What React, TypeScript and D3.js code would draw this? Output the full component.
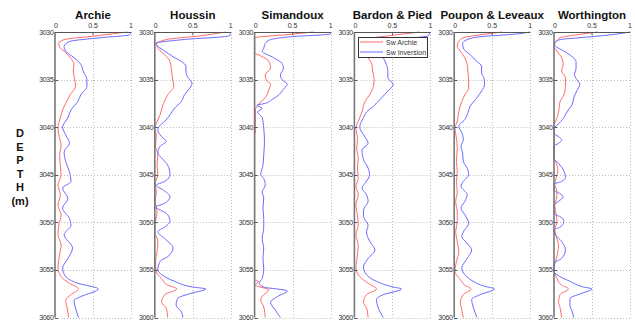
import React, { useEffect, useRef } from 'react';
import * as d3 from 'd3';

type Pt = [number, number]; // [depth (m), Sw]

const TITLES = ['Archie', 'Houssin', 'Simandoux', 'Bardon & Pied', 'Poupon & Leveaux', 'Worthington'];
const DEPTH_TICKS = [3030, 3035, 3040, 3045, 3050, 3055, 3060];
const SW_TICKS = [0, 0.5, 1];
const SW_TICK_LABELS = ['0', '0.5', '1'];
const LEGEND_LABELS = ['Sw Archie', 'Sw Inversion'];
const DEPTH_LETTERS = ['D', 'E', 'P', 'T', 'H', '(m)'];

// red curves: Sw from Archie-type equations
const archieSw: Pt[] = [[3030,0.95],[3030.4,0.55],[3030.8,0.12],[3031.2,0.05],[3031.6,0.06],[3032,0.12],[3032.7,0.2],[3033.4,0.25],[3034.1,0.24],[3035,0.26],[3035.7,0.27],[3036.6,0.2],[3037.5,0.14],[3038.2,0.1],[3039,0.07],[3040,0.04],[3040.8,0.05],[3041.9,0.08],[3043,0.06],[3044,0.07],[3045,0.08],[3046.1,0.04],[3047.1,0.07],[3048.2,0.04],[3049.2,0.08],[3050.3,0.05],[3051.3,0.04],[3052.4,0.08],[3053.4,0.06],[3054.8,0.04],[3055.7,0.08],[3056.4,0.19],[3057,0.31],[3057.6,0.21],[3058.2,0.14],[3059,0.16],[3060,0.18]];
const houssinSw: Pt[] = [[3030,0.93],[3030.4,0.6],[3030.8,0.15],[3031.3,0.02],[3031.7,0.04],[3032.4,0.13],[3033.1,0.2],[3034.1,0.22],[3035.2,0.24],[3035.7,0.25],[3036.6,0.17],[3037.6,0.11],[3038.7,0.07],[3039.8,0.01],[3040.1,0],[3040.8,0.02],[3042,0.01],[3042.9,0.04],[3044,0.03],[3045,0.04],[3045.9,0.005],[3046.8,0.02],[3047.8,0.005],[3048.9,0.03],[3049.9,0.01],[3051,0],[3052,0.04],[3053.1,0.03],[3054.1,0.01],[3055.2,0.02],[3055.9,0.09],[3056.6,0.17],[3057,0.29],[3057.6,0.13],[3058.4,0.09],[3059,0.15],[3060,0.17]];
const simandouxSw: Pt[] = [[3030,0.77],[3030.3,0.4],[3030.6,0],[3031.5,0],[3032.2,0],[3032.5,0.08],[3033.1,0.19],[3033.8,0.21],[3034.5,0.14],[3035,0.15],[3035.5,0.21],[3036,0.19],[3036.9,0.14],[3037.5,0.06],[3038.2,0.01],[3039,0.01],[3040.5,0.01],[3040.8,0],[3056,0],[3056.2,0.05],[3056.6,0.01],[3057.1,0.19],[3057.6,0.12],[3058.1,0.08],[3058.9,0.12],[3060,0.14]];
const bardonSw: Pt[] = [[3030,0.86],[3030.3,0.55],[3030.8,0.12],[3031.3,0.05],[3032,0.12],[3032.7,0.18],[3033.4,0.23],[3034.1,0.24],[3035,0.26],[3035.7,0.25],[3036.6,0.2],[3037.3,0.14],[3038.4,0.1],[3039.4,0.05],[3040.1,0.02],[3041.2,0.04],[3042.2,0.03],[3043.3,0.05],[3044.3,0.04],[3045.4,0.05],[3046.2,0.02],[3047.1,0.05],[3048.2,0.02],[3049.2,0.04],[3050.3,0.05],[3051.3,0.02],[3052.4,0.05],[3053.4,0.04],[3054.8,0.02],[3055.7,0.07],[3056.4,0.18],[3057,0.29],[3057.6,0.16],[3058.4,0.12],[3059,0.16],[3060,0.18]];
const pouponSw: Pt[] = [[3030,0.63],[3030.3,0.34],[3030.6,0.12],[3031,0.06],[3031.5,0.04],[3032,0.08],[3032.7,0.14],[3033.4,0.17],[3034.1,0.18],[3035.2,0.19],[3035.9,0.19],[3036.6,0.14],[3037.3,0.1],[3038.4,0.06],[3039.4,0.04],[3040.1,0.01],[3041.2,0.03],[3042.2,0.04],[3043.6,0.03],[3044.7,0.04],[3045.7,0.03],[3046.8,0.04],[3047.8,0.02],[3048.9,0.04],[3049.9,0.04],[3051,0.02],[3052,0.04],[3053.1,0.06],[3054.1,0.03],[3055.2,0.01],[3055.9,0.07],[3056.6,0.14],[3057,0.22],[3057.6,0.12],[3058.4,0.08],[3059.2,0.1],[3060,0.12]];
const worthingtonSw: Pt[] = [[3030,0.58],[3030.3,0.3],[3030.6,0.08],[3031,0.03],[3031.5,0],[3032,0.04],[3032.7,0.1],[3033.4,0.12],[3034.1,0.1],[3034.8,0.15],[3035.7,0.15],[3036.6,0.13],[3037.3,0.08],[3038.4,0.06],[3039.2,0.03],[3039.9,0],[3043.3,0],[3043.8,0.03],[3044.5,0.05],[3045.3,0.03],[3046,0.01],[3046.8,0.04],[3047.6,0.03],[3048.3,0.01],[3049.2,0.03],[3050,0.04],[3050.7,0.01],[3051.5,0.03],[3052.5,0.06],[3053.5,0.04],[3055,0],[3055.9,0.04],[3056.6,0.1],[3057,0.19],[3057.6,0.08],[3058.4,0.06],[3059,0.08],[3060,0.1]];

// blue curves: Sw from inversion
const archieInv: Pt[] = [[3030,1],[3030.3,0.98],[3030.6,0.6],[3031,0.19],[3031.5,0.12],[3032,0.14],[3032.7,0.25],[3033.4,0.34],[3034.1,0.37],[3035,0.42],[3035.7,0.42],[3036.6,0.34],[3037.3,0.3],[3038.2,0.21],[3039,0.17],[3040,0.1],[3040.8,0.14],[3041.7,0.19],[3042.6,0.12],[3043.6,0.14],[3044.7,0.19],[3045.7,0.21],[3046.4,0.1],[3047.5,0.17],[3048.5,0.1],[3049.6,0.19],[3050.3,0.21],[3051.3,0.12],[3052.7,0.23],[3053.8,0.17],[3054.8,0.1],[3055.7,0.14],[3056.4,0.3],[3057,0.57],[3057.8,0.34],[3058.2,0.25],[3059,0.27],[3060,0.31]];
const houssinInv: Pt[] = [[3030,1],[3030.4,0.98],[3030.8,0.37],[3031.2,0.01],[3031.5,0.04],[3032,0.13],[3032.6,0.24],[3033.1,0.35],[3033.6,0.41],[3034.1,0.41],[3034.7,0.43],[3035.4,0.49],[3035.9,0.46],[3036.6,0.39],[3037.3,0.35],[3038,0.26],[3038.7,0.2],[3039.4,0.13],[3039.9,0.06],[3040.3,0.04],[3041,0.09],[3041.5,0.15],[3042,0.07],[3042.7,0.04],[3043.4,0.11],[3044,0.17],[3045,0.2],[3045.7,0.13],[3046.1,0.02],[3046.6,0.11],[3047.3,0.2],[3048,0.13],[3048.4,0.01],[3048.7,0.07],[3049.2,0.17],[3049.9,0.2],[3050.5,0.13],[3051,0.04],[3051.7,0.13],[3052.7,0.24],[3053.6,0.17],[3054.1,0.07],[3055,0.04],[3055.5,0.09],[3056.2,0.26],[3056.8,0.5],[3057,0.67],[3057.5,0.46],[3058,0.3],[3058.7,0.28],[3059.4,0.35],[3060,0.37]];
const simandouxInv: Pt[] = [[3030,1],[3030.2,1],[3030.5,0.47],[3030.8,0.21],[3031.2,0.14],[3031.7,0.12],[3032,0.1],[3032.7,0.25],[3033.3,0.36],[3033.8,0.38],[3034.5,0.34],[3035,0.36],[3035.5,0.43],[3036,0.38],[3036.6,0.32],[3037.1,0.23],[3037.5,0.14],[3037.7,0.03],[3038,0.1],[3038.4,0.04],[3039,0.1],[3040.1,0.12],[3041.5,0.13],[3042.9,0.12],[3044,0.11],[3045,0.08],[3045.4,0.12],[3046.1,0.14],[3046.8,0.1],[3047.5,0.12],[3048.5,0.11],[3049.6,0.12],[3050.6,0.12],[3051.7,0.1],[3052.7,0.12],[3053.8,0.11],[3054.8,0.12],[3055.9,0.1],[3056.4,0.06],[3056.8,0.12],[3057.2,0.43],[3057.8,0.3],[3058.4,0.21],[3059.2,0.27],[3060,0.34]];
const bardonInv: Pt[] = [[3030,1],[3030.4,0.97],[3030.9,0.4],[3031.4,0.3],[3032,0.33],[3032.7,0.38],[3033.4,0.42],[3034.1,0.44],[3034.8,0.44],[3035.5,0.51],[3036.2,0.44],[3036.9,0.36],[3037.8,0.25],[3038.4,0.16],[3039,0.12],[3040,0.07],[3040.8,0.12],[3041.7,0.18],[3042.4,0.1],[3043.4,0.12],[3044.3,0.18],[3045,0.2],[3045.9,0.14],[3046.4,0.1],[3047.1,0.16],[3047.8,0.18],[3048.7,0.12],[3049.4,0.12],[3050.3,0.18],[3051,0.16],[3052,0.2],[3052.9,0.27],[3053.8,0.18],[3054.7,0.12],[3055.5,0.16],[3056.2,0.29],[3056.8,0.51],[3057,0.62],[3057.6,0.38],[3058.1,0.29],[3058.9,0.31],[3060,0.38]];
const pouponInv: Pt[] = [[3030,1],[3030.2,0.83],[3030.5,0.34],[3030.8,0.17],[3031.2,0.11],[3031.7,0.12],[3032.4,0.21],[3033.1,0.3],[3033.6,0.36],[3034.3,0.36],[3034.8,0.39],[3035.5,0.4],[3036.2,0.36],[3036.9,0.3],[3037.8,0.21],[3038.5,0.18],[3039.2,0.14],[3039.9,0.06],[3040.6,0.1],[3041.3,0.12],[3042,0.09],[3042.7,0.11],[3043.6,0.12],[3044.3,0.17],[3045,0.19],[3045.7,0.12],[3046.2,0.09],[3047.1,0.17],[3047.8,0.14],[3048.5,0.09],[3049.2,0.14],[3050.1,0.19],[3051,0.12],[3051.5,0.1],[3052.2,0.17],[3052.9,0.23],[3053.8,0.17],[3054.8,0.1],[3055.5,0.14],[3056.2,0.25],[3056.7,0.39],[3057,0.53],[3057.6,0.34],[3058.1,0.23],[3058.9,0.25],[3060,0.3]];
const worthingtonInv: Pt[] = [[3030,1],[3030.3,0.74],[3030.6,0.34],[3030.8,0.08],[3031.2,0],[3031.5,0.02],[3032,0.13],[3032.6,0.24],[3033.1,0.29],[3033.8,0.29],[3034.5,0.27],[3035,0.3],[3035.5,0.34],[3036.2,0.3],[3036.9,0.26],[3037.6,0.24],[3038.4,0.17],[3039,0.13],[3039.8,0.04],[3040.1,0],[3040.6,0],[3041,0.06],[3041.3,0.1],[3041.7,0.06],[3042,0],[3043.3,0],[3043.8,0.06],[3044.6,0.13],[3045.3,0.15],[3045.7,0.1],[3046,0],[3046.6,0],[3047,0.08],[3047.3,0.12],[3047.8,0.06],[3048.2,0],[3049.1,0],[3049.4,0.08],[3049.9,0.13],[3050.5,0.08],[3050.8,0],[3051.3,0.02],[3052,0.1],[3052.9,0.15],[3053.8,0.1],[3054.3,0],[3055.2,0],[3055.5,0.04],[3056.2,0.21],[3056.8,0.39],[3057,0.5],[3057.5,0.35],[3058,0.21],[3058.7,0.21],[3059.4,0.24],[3060,0.26]];

const SW_ARCHIE = [archieSw, houssinSw, simandouxSw, bardonSw, pouponSw, worthingtonSw];
const SW_INVERSION = [archieInv, houssinInv, simandouxInv, bardonInv, pouponInv, worthingtonInv];

const RED = '#ff6a6a';
const BLUE = '#6a6aff';
const FONT = 'Liberation Sans, Arial, sans-serif';

const App = () => {
  const svgRef = useRef<SVGSVGElement>(null);

  useEffect(() => {
    const width = 635;
    const height = 325;
    const panelLeft = 55;
    const panelStep = 99.8;
    const panelW = 76;
    const top = 32;
    const bottom = 317.5;

    const svg = d3.select(svgRef.current)
      .attr('width', width)
      .attr('height', height);
    svg.selectAll('*').remove();

    svg.append('rect').attr('width', width).attr('height', height).attr('fill', '#fff');

    const y = d3.scaleLinear().domain([3030, 3060]).range([top, bottom]);

    TITLES.forEach((title, i) => {
      const x0 = panelLeft + i * panelStep;
      const x = d3.scaleLinear().domain([0, 1]).range([x0, x0 + panelW]);
      const g = svg.append('g');

      // dotted grid
      g.selectAll('.vgrid')
        .data(SW_TICKS.filter(t => t > 0))
        .enter().append('line')
        .attr('x1', d => Math.round(x(d)) + 0.5)
        .attr('x2', d => Math.round(x(d)) + 0.5)
        .attr('y1', top)
        .attr('y2', bottom)
        .attr('stroke', '#b8b8b8')
        .attr('stroke-dasharray', '1,2');

      g.selectAll('.hgrid')
        .data(DEPTH_TICKS.filter(t => t > 3030))
        .enter().append('line')
        .attr('x1', x(0))
        .attr('x2', x(1))
        .attr('y1', d => Math.round(y(d)) + 0.5)
        .attr('y2', d => Math.round(y(d)) + 0.5)
        .attr('stroke', '#b8b8b8')
        .attr('stroke-dasharray', '1,2');

      // curves
      const line = d3.line<Pt>()
        .x(d => x(d[1]))
        .y(d => y(d[0]))
        .curve(d3.curveMonotoneY);

      g.append('path')
        .datum(SW_ARCHIE[i])
        .attr('fill', 'none')
        .attr('stroke', RED)
        .attr('stroke-width', 1)
        .attr('d', line);

      g.append('path')
        .datum(SW_INVERSION[i])
        .attr('fill', 'none')
        .attr('stroke', BLUE)
        .attr('stroke-width', 1)
        .attr('d', line);

      // axes
      g.append('line')
        .attr('x1', x(0)).attr('x2', x(1))
        .attr('y1', top + 0.5).attr('y2', top + 0.5)
        .attr('stroke', '#555');
      g.append('line')
        .attr('x1', x(0)).attr('x2', x(0))
        .attr('y1', top).attr('y2', bottom)
        .attr('stroke', '#777')
        .attr('stroke-width', 1.6);

      g.selectAll('.ytick')
        .data(DEPTH_TICKS)
        .enter().append('line')
        .attr('x1', x(0))
        .attr('x2', x(0) + 3)
        .attr('y1', d => Math.round(y(d)) + 0.5)
        .attr('y2', d => Math.round(y(d)) + 0.5)
        .attr('stroke', '#555');

      g.selectAll('.xtick')
        .data(SW_TICKS.filter(t => t > 0 && t < 1))
        .enter().append('line')
        .attr('x1', d => x(d))
        .attr('x2', d => x(d))
        .attr('y1', top)
        .attr('y2', top + 3)
        .attr('stroke', '#555');

      g.selectAll('.ylabel')
        .data(DEPTH_TICKS)
        .enter().append('text')
        .attr('x', x(0) - 1.5)
        .attr('y', d => y(d) + 2.5)
        .attr('text-anchor', 'end')
        .style('font-family', FONT)
        .style('font-size', '7px')
        .style('letter-spacing', '-0.3px')
        .attr('fill', '#333')
        .text(d => d);

      g.selectAll('.xlabel')
        .data(SW_TICKS)
        .enter().append('text')
        .attr('x', d => x(d) + (d === 0 ? 1 : 0))
        .attr('y', 28)
        .attr('text-anchor', 'middle')
        .style('font-family', FONT)
        .style('font-size', '7px')
        .attr('fill', '#333')
        .text((d, k) => SW_TICK_LABELS[k]);

      g.append('text')
        .attr('x', x(0.5))
        .attr('y', 19)
        .attr('text-anchor', 'middle')
        .style('font-family', FONT)
        .style('font-size', '11.5px')
        .style('font-weight', 'bold')
        .attr('fill', '#111')
        .text(title);
    });

    // legend inside the Bardon & Pied panel
    const lx = 358;
    const ly = 37;
    const legend = svg.append('g').attr('transform', `translate(${lx},${ly})`);
    legend.append('rect')
      .attr('x', 0.5).attr('y', 0.5)
      .attr('width', 69).attr('height', 20)
      .attr('fill', '#fff')
      .attr('stroke', '#333');
    const legendItems = legend.selectAll('.legend-item')
      .data(LEGEND_LABELS)
      .enter().append('g')
      .attr('transform', (d, k) => `translate(0, ${5 + k * 10})`);
    legendItems.append('line')
      .attr('x1', 2).attr('x2', 25)
      .attr('y1', 0).attr('y2', 0)
      .attr('stroke', (d, k) => (k === 0 ? RED : BLUE));
    legendItems.append('text')
      .attr('x', 28)
      .attr('y', 2.5)
      .style('font-family', FONT)
      .style('font-size', '7px')
      .attr('fill', '#333')
      .text(d => d);

    // vertical axis label
    svg.selectAll('.depth-letter')
      .data(DEPTH_LETTERS)
      .enter().append('text')
      .attr('x', 20)
      .attr('y', (d, k) => 137 + k * 13.5)
      .attr('text-anchor', 'middle')
      .style('font-family', FONT)
      .style('font-size', '11px')
      .style('font-weight', 'bold')
      .attr('fill', '#111')
      .text(d => d);
  }, []);

  return (
    <div style={{ position: 'absolute', left: 0, top: 0 }}>
      <svg ref={svgRef} style={{ display: 'block' }}></svg>
    </div>
  );
};

export default App;
